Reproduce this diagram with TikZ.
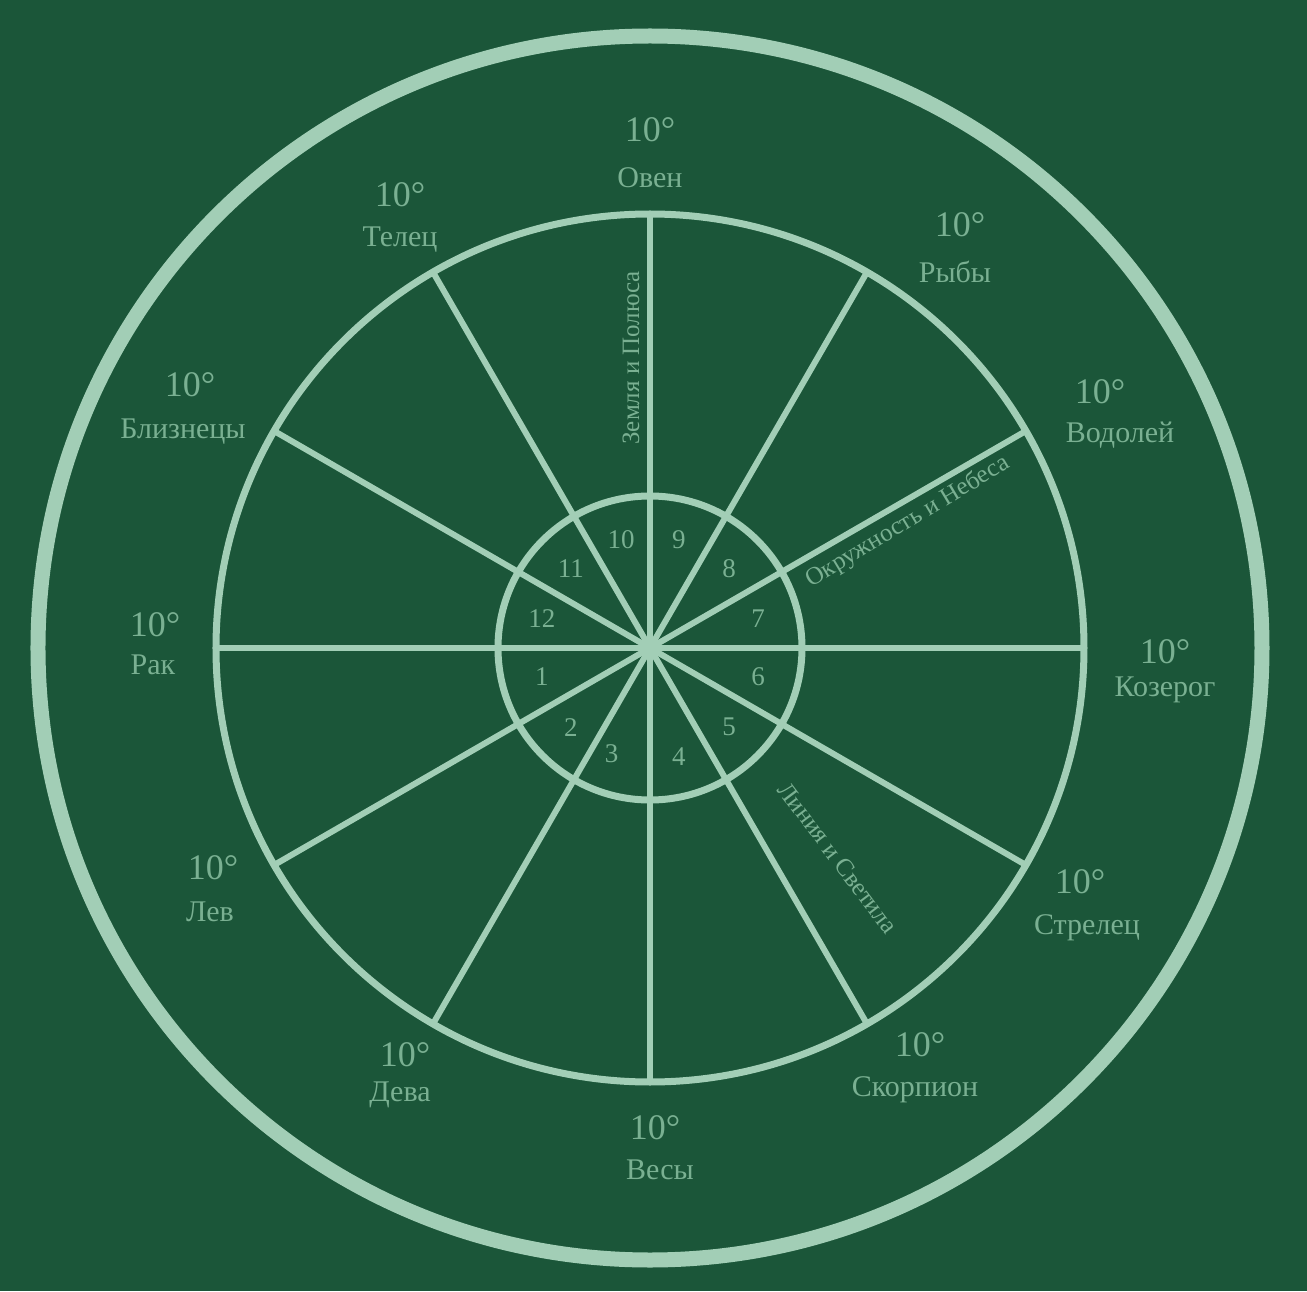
\documentclass[tikz,border=0pt]{standalone}
\usepackage{fontspec}
\setmainfont{Liberation Serif}
\definecolor{bg}{RGB}{27,86,57}
\definecolor{ln}{RGB}{162,206,182}
\definecolor{tx}{RGB}{122,176,146}
\begin{document}
\begin{tikzpicture}[x=1pt,y=1pt,
  ring/.style={draw=ln},
  spoke/.style={draw=ln,line width=6pt},
  deg/.style={text=tx,font=\fontsize{36}{38}\selectfont,inner sep=0pt},
  sign/.style={text=tx,font=\fontsize{30}{32}\selectfont,inner sep=0pt},
  num/.style={text=tx,font=\fontsize{27}{29}\selectfont,inner sep=0pt},
  spk/.style={text=tx,font=\fontsize{25}{27}\selectfont,inner sep=0pt}]
\fill[bg] (-650,-643) rectangle (657,648);
\useasboundingbox (-650,-643) rectangle (657,648);
% circles
\node[ring,circle,line width=15pt,minimum size=1224pt,inner sep=0pt] (outer) at (0,0) {};
\node[ring,circle,line width=7pt,minimum size=868pt,inner sep=0pt] (middle) at (0,0) {};
% spokes
\node[circle,fill=ln,minimum size=22pt,inner sep=0pt] (c) at (0,0) {};
\foreach \a [count=\i] in {0,30,...,330}{
  \coordinate (s\i) at (\a:434);
  \draw[spoke] (c.center) -- (s\i);
}
\node[ring,circle,line width=7pt,minimum size=304pt,inner sep=0pt] (inner) at (0,0) {};
% inner numbers
\foreach \n/\a in {1/195,2/225,3/250,4/285,5/315,6/345,7/15,8/45,9/75,10/105,11/135,12/165}{
  \node[num] (n\n) at (\a:112) {\n};
}
% zodiac labels
\node[deg] (d1) at (0,518) {10°};   \node[sign] (z1) at (0,470) {Овен};
\node[deg] (d2) at (310,423) {10°}; \node[sign] (z2) at (305,376) {Рыбы};
\node[deg] (d3) at (450,256) {10°}; \node[sign] (z3) at (470,213) {Водолей};
\node[deg] (d4) at (515,-4) {10°};  \node[sign] (z4) at (515,-42) {Козерог};
\node[deg] (d5) at (430,-234) {10°};\node[sign] (z5) at (437,-280) {Стрелец};
\node[deg] (d6) at (270,-397) {10°};\node[sign] (z6) at (265,-442) {Скорпион};
\node[deg] (d7) at (5,-480) {10°};  \node[sign] (z7) at (10,-522) {Весы};
\node[deg] (d8) at (-245,-407) {10°};\node[sign] (z8) at (-250,-447) {Дева};
\node[deg] (d9) at (-437,-220) {10°};\node[sign] (z9) at (-440,-264) {Лев};
\node[deg] (d10) at (-495,23) {10°}; \node[sign] (z10) at (-497,-17) {Рак};
\node[deg] (d11) at (-460,263) {10°};\node[sign] (z11) at (-467,216) {Близнецы};
\node[deg] (d12) at (-250,453) {10°};\node[sign] (z12) at (-250,408) {Телец};
% spoke texts
\node[spk,rotate=90] (t1) at (-19,290) {Земля и Полюса};
\node[spk,rotate=31] (t2) at (258,126) {Окружность и Небеса};
\node[spk,rotate=-53] (t3) at (188,-210) {Линия и Светила};
\end{tikzpicture}
\end{document}
